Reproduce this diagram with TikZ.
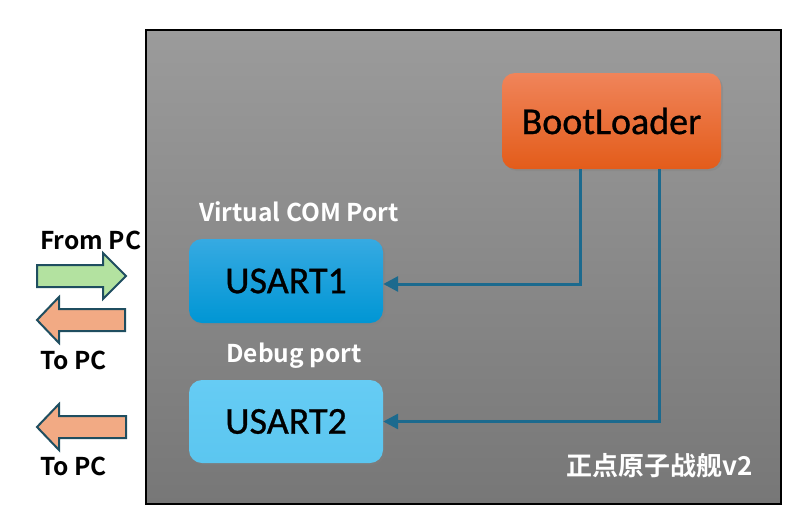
\documentclass[tikz,border=0pt]{standalone}
\usepackage{fontspec}
\setmainfont{Carlito}
\newfontfamily\boxfont{Carlito}[FakeBold=0.8]
\newfontfamily\cjk{Noto Sans CJK SC}[BoldFont={Noto Sans CJK SC Bold}]
\usetikzlibrary{arrows.meta,shadows}
\definecolor{bgtop}{HTML}{9B9B9B}
\definecolor{bgbot}{HTML}{777777}
\definecolor{ortop}{HTML}{F0845A}
\definecolor{orbot}{HTML}{E35C1A}
\definecolor{b1top}{HTML}{36AAE2}
\definecolor{b1bot}{HTML}{0096D4}
\definecolor{b2top}{HTML}{66CCF4}
\definecolor{b2bot}{HTML}{5BC6F0}
\definecolor{wire}{HTML}{1C6A8E}
\definecolor{arrline}{HTML}{1F4E60}
\definecolor{arrgreen}{HTML}{B3E2A0}
\definecolor{arrorange}{HTML}{F2AA84}
\tikzset{
  blockbox/.style={rounded corners=13pt, minimum width=194pt, minimum height=84pt,
    font=\boxfont\fontsize{38}{38}\selectfont, text=black, inner sep=0pt,
    drop shadow={shadow xshift=2pt, shadow yshift=-2pt, opacity=0.35}},
  wireline/.style={draw=wire, line width=3pt, -{Triangle[length=15pt,width=15pt]}},
  blockarrow/.style={draw=arrline, line width=2pt, line join=miter},
  labelw/.style={font=\cjk\bfseries\fontsize{24.5}{24.5}\selectfont, text=white, inner sep=0pt},
  labelk/.style={font=\cjk\bfseries\fontsize{24.5}{24.5}\selectfont, text=black, inner sep=0pt, anchor=west},
}
\begin{document}
\begin{tikzpicture}[x=1pt,y=-1pt]
\useasboundingbox (0,0) rectangle (809,523);
% background panel
\shade[top color=bgtop, bottom color=bgbot] (146,30) rectangle (781,504);
\draw[black, line width=1.5pt] (146,30) rectangle (781,504);
% boxes
\node[blockbox, top color=ortop, bottom color=orbot, minimum width=219pt, minimum height=96pt] (bl) at (611.5,121) {BootLoader};
\node[blockbox, top color=b1top, bottom color=b1bot] (u1) at (286,281) {USART1};
\node[blockbox, top color=b2top, bottom color=b2bot, minimum height=83pt] (u2) at (286,421.5) {USART2};
% labels
\node[labelw] (vcp) at (299,212) {Virtual COM Port};
\node[labelw] (dbg) at (294,356) {Debug port};
\node[labelw, font=\cjk\bfseries\fontsize{26}{26}\selectfont] (brd) at (660,466) {正点原子战舰v2};
\node[labelk] (from) at (40,240) {From PC};
\node[labelk] (to1) at (40,360) {To PC};
\node[labelk] (to2) at (40,466) {To PC};
% wires
\draw[wireline] ([xshift=-31.5pt]bl.south) |- ([yshift=-3pt]u1.east);
\draw[wireline] ([xshift=47.5pt]bl.south) |- (u2.east);
% block arrows
\draw[blockarrow, fill=arrgreen] (37,265) -- (103,265) -- (103,253) -- (126,276) -- (103,299) -- (103,287) -- (37,287) -- cycle;
\draw[blockarrow, fill=arrorange] (125,309) -- (59,309) -- (59,297) -- (37,320) -- (59,343) -- (59,331) -- (125,331) -- cycle;
\draw[blockarrow, fill=arrorange] (126,416) -- (59,416) -- (59,404) -- (37,427) -- (59,450) -- (59,438) -- (126,438) -- cycle;
\end{tikzpicture}
\end{document}
